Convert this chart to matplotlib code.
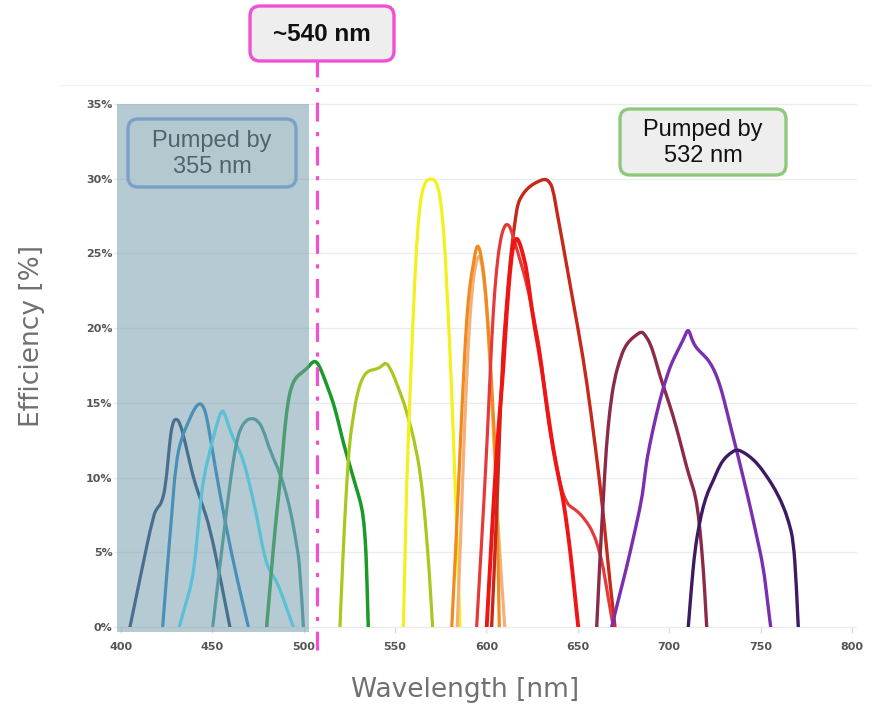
import matplotlib
matplotlib.use("Agg")
import matplotlib.pyplot as plt
from matplotlib.patches import Rectangle, FancyBboxPatch, PathPatch
from matplotlib.path import Path

# emission bands: wavelength (nm) vs conversion efficiency (%)
slate_x = [404.9, 411, 417.7, 420, 422.3, 424.5, 426.5, 428, 430.1, 432.5, 435, 438, 440.5, 444.5, 448.7, 454, 459.6]
slate_y = [0, 3.6, 7.5, 8.0, 8.3, 9.5, 12.2, 13.6, 14.0, 13.6, 12.4, 10.8, 9.6, 8.2, 6.6, 3.5, 0]

blue_x = [422.8, 425, 427.7, 430, 433.2, 436.8, 440, 442.9, 445, 446.9, 449.5, 452.4, 457.8, 463.5, 469.7]
blue_y = [0, 3.5, 7.4, 11.0, 12.7, 13.7, 14.6, 15.0, 14.8, 14.1, 12.2, 10.1, 6.5, 3.2, 0]

cyan_x = [431.9, 435, 438.7, 441, 443.2, 445.5, 448.7, 452, 455.1, 457, 458.7, 461.5, 464, 466.9, 470.5, 474.3,
          478.8, 482, 485.2, 490, 494.3]
cyan_y = [0, 1.4, 2.9, 5.0, 8.1, 10.2, 11.8, 13.4, 14.6, 14.2, 13.5, 12.6, 12.0, 11.2, 9.5, 7.4,
          4.5, 3.6, 3.1, 1.5, 0]

teal_x = [450.2, 453, 456, 459, 461.5, 463.5, 465.1, 468, 471.5, 475, 477.9, 481.5, 487, 490.5, 493.4, 496, 498, 499.8]
teal_y = [0, 3.0, 6.0, 9.0, 11.2, 12.5, 13.2, 13.8, 14.0, 13.8, 13.2, 11.8, 10.3, 8.9, 7.4, 5.6, 4.0, 0]

green_x = [479.7, 481.5, 483.3, 485.5, 487.9, 489.5, 491.5, 493.3, 495.2, 497.5, 499.8, 502.5, 504.5, 506.2, 508,
           510.5, 513.5, 516.2, 519, 521.7, 525, 529, 531, 532.6, 533.7, 534.4, 535.3]
green_y = [0, 2.6, 5.2, 8.0, 10.7, 13.2, 15.2, 16.1, 16.6, 16.9, 17.1, 17.4, 17.7, 17.8, 17.6,
           16.9, 15.9, 15.0, 13.7, 12.3, 10.9, 9.2, 8.4, 7.4, 5.8, 4.0, 0]

lime_x = [519.8, 521.5, 523.5, 525, 527.1, 529.5, 532.6, 535, 537.2, 540.8, 543, 545, 547.5, 550.9, 556.3, 561.8,
          564.5, 566.3, 568, 569.1, 570.5]
lime_y = [0, 5.0, 9.6, 12.3, 14.1, 15.8, 16.8, 17.1, 17.2, 17.3, 17.5, 17.7, 17.3, 16.3, 14.5, 11.8,
          9.6, 7.4, 4.8, 2.9, 0]

yellow_x = [554.5, 555.5, 556.3, 557.8, 559.1, 560.5, 561.8, 563.2, 564.5, 566, 567.3, 569.5, 571.8, 573.3, 574.6,
            576, 577.3, 578.6, 580, 581.5, 582.8, 584.2, 585.5]
yellow_y = [0, 5, 9.6, 14.5, 18.5, 22.5, 25.7, 27.8, 29.0, 29.6, 29.9, 30.0, 29.9, 29.5, 28.8,
            27.3, 25.2, 22.0, 18.5, 14.0, 9.6, 4.8, 0]

orange_x = [581, 583.5, 585.5, 587.5, 589.2, 591, 592.8, 594.2, 595.5, 597.2, 599.2, 601, 602.8, 604.3, 605.6, 607]
orange_y = [0, 6, 11.8, 17, 20.8, 23, 24.3, 25.3, 25.6, 24.8, 23.0, 20.0, 16.3, 12.8, 9.6, 0]

peach_x = [584, 586, 588, 590, 592, 594, 596, 598, 600, 602, 604, 606, 608, 610]
peach_y = [0, 6.5, 13.5, 19, 22.5, 24.3, 25.0, 24.0, 21.5, 17.5, 12.5, 7.5, 3.5, 0]

red_a_x = [594.6, 597.5, 600.1, 602, 603.7, 605.5, 607.4, 609.5, 611.6, 613.5, 615.6, 618.5, 622, 625.5, 629.3,
           632, 634.7, 638.4, 641, 643.9, 646.5, 649.3, 654, 658.5, 661.5, 663.9, 666.5, 669.4]
red_a_y = [0, 6, 11.8, 17.0, 21.2, 24.0, 25.8, 26.8, 27.0, 26.6, 25.7, 24.5, 23.0, 20.9, 18.5,
           15.6, 13.0, 10.7, 9.2, 8.3, 8.0, 7.8, 7.2, 6.3, 5.2, 4.0, 2.0, 0]

red_b_x = [600.1, 603, 605.6, 607.5, 609.2, 611, 612.9, 614.6, 616.5, 618.5, 620.2, 622, 625.5, 629.3, 633, 636.6,
           639.5, 642, 644, 645.7, 648, 650.2]
red_b_y = [0, 6.5, 11.8, 14.8, 17.2, 21.0, 23.9, 25.6, 26.1, 25.6, 24.8, 23.9, 20.6, 18.1, 14.8, 11.8,
           10.0, 8.5, 6.8, 5.2, 2.6, 0]

darkred_x = [602.8, 605.5, 608.3, 611, 613, 614.5, 616, 617.3, 619.5, 622, 625, 628, 632, 634.5, 636.4, 638.5,
             641.1, 647.5, 652.8, 657, 662.1, 665, 667.6, 670.3]
darkred_y = [0, 7.0, 17.2, 21.7, 24.5, 26.1, 27.5, 28.4, 28.9, 29.3, 29.6, 29.8, 30.0, 29.8, 29.3, 27.8,
             26.1, 21.7, 18.1, 14.5, 9.6, 6.2, 2.9, 0]

maroon_x = [660.3, 662, 663.9, 665.5, 667.6, 670, 673, 675.5, 678.5, 681.5, 684.9, 687, 689.5, 692, 694.9, 698.5,
            702.2, 706, 709.5, 712, 714.1, 716, 717.8, 719.3, 720.5]
maroon_y = [0, 4.5, 8.5, 12.0, 14.7, 16.6, 17.9, 18.7, 19.2, 19.5, 19.8, 19.5, 19.0, 18.1, 16.8, 15.5,
            14.1, 12.4, 10.7, 9.7, 8.9, 7.5, 5.2, 2.7, 0]

purple_x = [668.5, 672.5, 676.7, 681, 684.9, 686.3, 687.7, 691, 694.9, 697.5, 700.4, 703, 705.9, 708.3, 710.4,
            712.2, 714.1, 717, 720.5, 723.3, 726, 728.7, 731.4, 734, 736.9, 740.5, 744.2, 748, 751.5, 753.5, 755.5]
purple_y = [0, 2.0, 4.0, 6.3, 8.5, 9.8, 11.2, 13.2, 15.2, 16.3, 17.4, 18.1, 18.8, 19.4, 20.0,
            19.3, 18.8, 18.4, 18.0, 17.5, 16.8, 15.8, 14.5, 13.2, 11.8, 10.0, 8.1, 6.0, 4.0, 2.0, 0]

dpurple_x = [710.4, 712.2, 714.1, 716.3, 718.6, 721.3, 724.1, 726.8, 729.6, 733, 736.9, 740.5, 744.2, 748.5, 753.3,
             758, 762.4, 765.5, 767.9, 769.5, 770.6]
dpurple_y = [0, 2.8, 5.2, 6.8, 8.1, 9.1, 9.8, 10.6, 11.2, 11.6, 11.9, 11.7, 11.4, 10.9, 10.1,
             9.2, 8.1, 7.0, 5.8, 3.0, 0]

curves = [
    (slate_x, slate_y, '#0f3769', 2.3),
    (blue_x, blue_y, '#0f7fc1', 2.3),
    (cyan_x, cyan_y, '#35e9ff', 2.3),
    (teal_x, teal_y, '#33958c', 2.3),
    (green_x, green_y, '#1a9a28', 2.5),
    (lime_x, lime_y, '#a8c81e', 2.3),
    (yellow_x, yellow_y, '#f4f01c', 2.3),
    (peach_x, peach_y, '#f5b07a', 2.3),
    (orange_x, orange_y, '#f08a1e', 2.3),
    (darkred_x, darkred_y, '#c8281a', 2.4),
    (red_a_x, red_a_y, '#e63a3a', 2.3),
    (red_b_x, red_b_y, '#f01414', 2.8),
    (maroon_x, maroon_y, '#8c2a48', 2.4),
    (purple_x, purple_y, '#7a2eb0', 2.4),
    (dpurple_x, dpurple_y, '#3c1a64', 2.4),
]

x_ticks = [400, 450, 500, 550, 600, 650, 700, 750, 800]
y_ticks = [0, 5, 10, 15, 20, 25, 30, 35]
uv_band = (397.8, 502.9)    # pumped by 355 nm
marker_nm = 507.3


def smooth_path(xs, ys):
    # quadratic bezier through segment midpoints, using the samples as control points
    verts = [(xs[0], ys[0])]
    codes = [Path.MOVETO]
    for i in range(1, len(xs) - 1):
        mx = (xs[i] + xs[i + 1]) / 2
        my = (ys[i] + ys[i + 1]) / 2
        if i == len(xs) - 2:
            mx, my = xs[-1], ys[-1]
        verts += [(xs[i], ys[i]), (mx, my)]
        codes += [Path.CURVE3, Path.CURVE3]
    return Path(verts, codes)


W, H = 879, 705
fig = plt.figure(figsize=(W / 100, H / 100), dpi=100)
fig.patch.set_facecolor('white')

ax = fig.add_axes([121 / W, (H - 627) / H, 731 / W, 523 / H])
ax.set_xlim(400, 800)
ax.set_ylim(0, 35)

for y in y_ticks:
    ax.plot([396, 802], [y, y], color='#ececec', lw=1.0, zorder=0, clip_on=False)
ax.axvline(800.5, color='#e6e6e6', lw=1.0, zorder=0)

for xs, ys, c, lw in curves:
    ax.add_patch(PathPatch(smooth_path(xs, ys), facecolor='none', edgecolor=c, lw=lw,
                           joinstyle='round', capstyle='round', zorder=2))

# translucent band over the UV-pumped region
ax.add_patch(Rectangle((uv_band[0], -0.35), uv_band[1] - uv_band[0], 35.35,
                       facecolor='#7a9fb0', alpha=0.55, edgecolor='none',
                       zorder=3, clip_on=False))

ax.plot([marker_nm, marker_nm], [-1.55, 37.95], color='#f24fd2', lw=2.3,
        dashes=(5.9, 3.3, 1.3, 3.3), zorder=5, clip_on=False)

for s in ax.spines.values():
    s.set_visible(False)
ax.set_xticks(x_ticks)
ax.set_xticklabels([str(v) for v in x_ticks])
ax.set_yticks(y_ticks)
ax.set_yticklabels([f'{v}%' for v in y_ticks])
ax.tick_params(axis='x', length=4, width=1, color='#dddddd', pad=7,
               labelsize=8, labelcolor='#555555')
ax.tick_params(axis='y', length=0, pad=6, labelsize=8, labelcolor='#555555')
for lab in ax.get_xticklabels() + ax.get_yticklabels():
    lab.set_fontweight('bold')

fig.text(465 / W, 1 - 690 / H, 'Wavelength [nm]', ha='center', va='center',
         fontsize=19, color='#707070')
fig.text(32 / W, 1 - 336 / H, 'Efficiency [%]', ha='center', va='center',
         rotation=90, fontsize=19, color='#707070')

# pixel-space layer for the callout boxes
ov = fig.add_axes([0, 0, 1, 1])
ov.set_xlim(0, W)
ov.set_ylim(H, 0)
ov.axis('off')
ov.plot([60, 870], [85, 85], color='#f2f2f2', lw=1)


def callout(x0, y0, x1, y1, edge, face, text, tcolor, size, weight='normal'):
    ov.add_patch(FancyBboxPatch((x0, y0), x1 - x0, y1 - y0,
                                boxstyle='round,pad=0,rounding_size=10',
                                facecolor=face, edgecolor=edge, lw=2.4, zorder=6))
    ov.text((x0 + x1) / 2, (y0 + y1) / 2 + 1, text, ha='center', va='center',
            fontsize=size, color=tcolor, fontweight=weight,
            family='Liberation Sans', linespacing=1.2, zorder=7)


callout(128, 119, 296, 187, '#7aa0c8', '#b4c8d0', 'Pumped by\n355 nm', '#4e6570', 17)
callout(620, 109, 786, 175, '#8fc87a', '#eeeeee', 'Pumped by\n532 nm', '#111111', 17)
callout(250, 6, 394, 61, '#f24fd2', '#eeeeee', '~540 nm', '#111111', 17.5, 'bold')

fig.savefig('out.png', dpi=100)
